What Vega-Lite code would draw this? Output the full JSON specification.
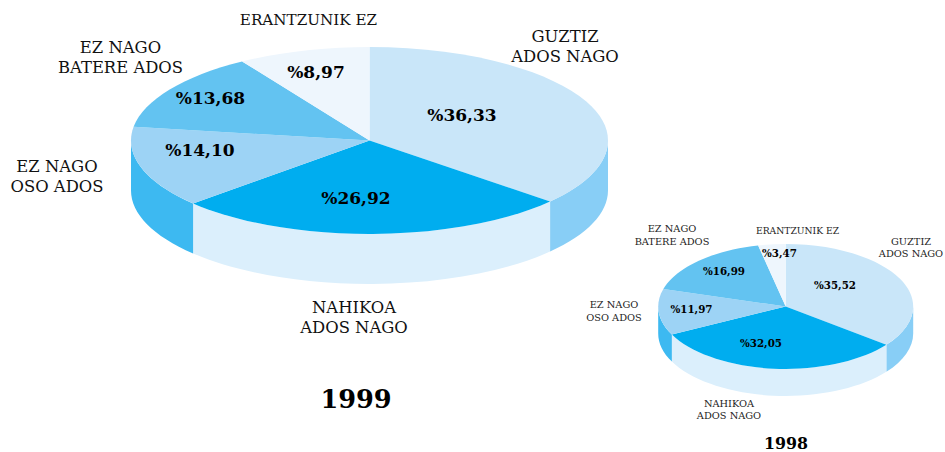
{
  "$schema": "https://vega.github.io/schema/vega-lite/v6.json",
  "width": 945,
  "height": 452,
  "padding": 0,
  "autosize": {"type": "none"},
  "background": "white",
  "view": {"stroke": null},
  "datasets": {
    "slices": [
      {"year": 1999, "slice": "GUZTIZ ADOS NAGO", "order": 1, "value": 36.33},
      {"year": 1999, "slice": "NAHIKOA ADOS NAGO", "order": 2, "value": 26.92},
      {"year": 1999, "slice": "EZ NAGO OSO ADOS", "order": 3, "value": 14.10},
      {"year": 1999, "slice": "EZ NAGO BATERE ADOS", "order": 4, "value": 13.68},
      {"year": 1999, "slice": "ERANTZUNIK EZ", "order": 5, "value": 8.97},
      {"year": 1998, "slice": "GUZTIZ ADOS NAGO", "order": 1, "value": 35.52},
      {"year": 1998, "slice": "NAHIKOA ADOS NAGO", "order": 2, "value": 32.05},
      {"year": 1998, "slice": "EZ NAGO OSO ADOS", "order": 3, "value": 11.97},
      {"year": 1998, "slice": "EZ NAGO BATERE ADOS", "order": 4, "value": 16.99},
      {"year": 1998, "slice": "ERANTZUNIK EZ", "order": 5, "value": 3.47}
    ],
    "labels": [
      {"kind": "none1999", "text": "ERANTZUNIK EZ", "lx": 308.5, "ly": 19.5},
      {"kind": "name1999", "text": "GUZTIZ\nADOS NAGO", "lx": 565, "ly": 36.5},
      {"kind": "name1999", "text": "EZ NAGO\nBATERE ADOS", "lx": 120.5, "ly": 47.5},
      {"kind": "name1999", "text": "EZ NAGO\nOSO ADOS", "lx": 57, "ly": 167},
      {"kind": "name1999", "text": "NAHIKOA\nADOS NAGO", "lx": 354, "ly": 308},
      {"kind": "pct1999", "text": "%36,33", "lx": 462, "ly": 116},
      {"kind": "pct1999", "text": "%26,92", "lx": 356, "ly": 199},
      {"kind": "pct1999", "text": "%14,10", "lx": 200, "ly": 150.5},
      {"kind": "pct1999", "text": "%13,68", "lx": 210.5, "ly": 99},
      {"kind": "pct1999", "text": "%8,97", "lx": 316, "ly": 73},
      {"kind": "title1999", "text": "1999", "lx": 356, "ly": 400},
      {"kind": "none1998", "text": "ERANTZUNIK EZ", "lx": 797.5, "ly": 231},
      {"kind": "name1998", "text": "GUZTIZ\nADOS NAGO", "lx": 911, "ly": 241.5},
      {"kind": "name1998", "text": "EZ NAGO\nBATERE ADOS", "lx": 672, "ly": 229},
      {"kind": "name1998", "text": "EZ NAGO\nOSO ADOS", "lx": 614, "ly": 305},
      {"kind": "name1998", "text": "NAHIKOA\nADOS NAGO", "lx": 729, "ly": 403.5},
      {"kind": "pct1998", "text": "%35,52", "lx": 835, "ly": 286},
      {"kind": "pct1998", "text": "%32,05", "lx": 761, "ly": 344},
      {"kind": "pct1998", "text": "%11,97", "lx": 691.5, "ly": 310},
      {"kind": "pct1998", "text": "%16,99", "lx": 724, "ly": 272},
      {"kind": "pct1998", "text": "%3,47", "lx": 779.5, "ly": 253.5},
      {"kind": "title1998", "text": "1998", "lx": 786, "ly": 444}
    ]
  },
  "layer": [
    {
      "data": {"name": "slices"},
      "transform": [
        {"window": [{"op": "sum", "field": "value", "as": "cum"}], "sort": [{"field": "order", "order": "ascending"}], "groupby": ["year"]},
        {"calculate": "datum.cum * PI / 50", "as": "a1"},
        {"calculate": "(datum.cum - datum.value) * PI / 50", "as": "a0"},
        {"calculate": "datum.year == 1999 ? 0.392 : 0.49", "as": "k"},
        {"calculate": "datum.year == 1999 ? 0.2096 : 0.2118", "as": "d"},
        {"calculate": "round(sin(datum.a0) * 100000) / 100000", "as": "x0"},
        {"calculate": "round(-datum.k * cos(datum.a0) * 100000) / 100000", "as": "y0"},
        {"calculate": "round(sin(datum.a1) * 100000) / 100000", "as": "x1"},
        {"calculate": "round(-datum.k * cos(datum.a1) * 100000) / 100000", "as": "y1"},
        {"calculate": "'M0,0L' + datum.x0 + ',' + datum.y0 + 'A1,' + datum.k + ',0,' + (datum.a1 - datum.a0 > PI ? 1 : 0) + ',1,' + datum.x1 + ',' + datum.y1 + 'Z'", "as": "topPath"},
        {"calculate": "max(datum.a0, PI / 2)", "as": "b0"},
        {"calculate": "min(datum.a1, 3 * PI / 2)", "as": "b1"},
        {"calculate": "round(sin(datum.b0) * 100000) / 100000", "as": "wx0"},
        {"calculate": "round(-datum.k * cos(datum.b0) * 100000) / 100000", "as": "wy0"},
        {"calculate": "round(sin(datum.b1) * 100000) / 100000", "as": "wx1"},
        {"calculate": "round(-datum.k * cos(datum.b1) * 100000) / 100000", "as": "wy1"},
        {"calculate": "'M' + datum.wx0 + ',' + datum.wy0 + 'A1,' + datum.k + ',0,0,1,' + datum.wx1 + ',' + datum.wy1 + 'L' + datum.wx1 + ',' + (datum.wy1 + datum.d) + 'A1,' + datum.k + ',0,0,0,' + datum.wx0 + ',' + (datum.wy0 + datum.d) + 'Z'", "as": "wallPath"}
      ],
      "encoding": {
        "x": {"field": "year", "type": "nominal", "axis": null, "scale": {"type": "point", "domain": [1999, 1998], "range": [369.5, 785.7], "padding": 0}},
        "y": {"field": "year", "type": "nominal", "axis": null, "scale": {"type": "point", "domain": [1999, 1998], "range": [140.5, 306.5], "padding": 0}},
        "size": {"field": "year", "type": "nominal", "legend": null, "scale": {"type": "point", "domain": [1999, 1998], "range": [227529, 65025], "padding": 0}}
      },
      "layer": [
        {
          "transform": [{"filter": "datum.a1 > PI / 2 && datum.a0 < 3 * PI / 2"}],
          "mark": {"type": "point", "filled": true, "opacity": 1, "strokeWidth": 0},
          "encoding": {
            "shape": {"field": "wallPath", "type": "nominal", "scale": null, "legend": null},
            "fill": {"field": "slice", "type": "nominal", "legend": null, "scale": {"domain": ["GUZTIZ ADOS NAGO", "NAHIKOA ADOS NAGO", "EZ NAGO OSO ADOS"], "range": ["#88CEF6", "#DBEFFC", "#3DB9F1"]}}
          }
        },
        {
          "mark": {"type": "point", "filled": true, "opacity": 1, "strokeWidth": 0},
          "encoding": {
            "shape": {"field": "topPath", "type": "nominal", "scale": null, "legend": null},
            "color": {"field": "slice", "type": "nominal", "legend": null, "scale": {"domain": ["GUZTIZ ADOS NAGO", "NAHIKOA ADOS NAGO", "EZ NAGO OSO ADOS", "EZ NAGO BATERE ADOS", "ERANTZUNIK EZ"], "range": ["#C9E6F9", "#00ADEF", "#9DD3F5", "#63C3F1", "#EEF6FD"]}}
          }
        }
      ]
    },
    {
      "data": {"name": "labels"},
      "encoding": {
        "x": {"field": "lx", "type": "quantitative", "axis": null, "scale": {"domain": [0, 945], "range": [0, 945], "nice": false, "zero": false}},
        "y": {"field": "ly", "type": "quantitative", "axis": null, "scale": {"domain": [0, 452], "range": [0, 452], "nice": false, "zero": false}},
        "text": {"field": "text", "type": "nominal"}
      },
      "layer": [
        {"transform": [{"filter": "datum.kind == 'name1999'"}], "mark": {"type": "text", "font": "DejaVu Serif", "fontSize": 16.4, "color": "#111111", "lineBreak": "\n", "lineHeight": 20, "align": "center", "baseline": "middle"}},
        {"transform": [{"filter": "datum.kind == 'none1999'"}], "mark": {"type": "text", "font": "DejaVu Serif", "fontSize": 15.2, "color": "#111111", "align": "center", "baseline": "middle"}},
        {"transform": [{"filter": "datum.kind == 'pct1999'"}], "mark": {"type": "text", "font": "DejaVu Serif", "fontSize": 17, "fontWeight": "bold", "color": "#000000", "align": "center", "baseline": "middle"}},
        {"transform": [{"filter": "datum.kind == 'title1999'"}], "mark": {"type": "text", "font": "DejaVu Serif", "fontSize": 25.6, "fontWeight": "bold", "color": "#000000", "align": "center", "baseline": "middle"}},
        {"transform": [{"filter": "datum.kind == 'name1998'"}], "mark": {"type": "text", "font": "DejaVu Serif", "fontSize": 9.8, "color": "#222222", "lineBreak": "\n", "lineHeight": 12.5, "align": "center", "baseline": "middle"}},
        {"transform": [{"filter": "datum.kind == 'none1998'"}], "mark": {"type": "text", "font": "DejaVu Serif", "fontSize": 9.2, "color": "#222222", "align": "center", "baseline": "middle"}},
        {"transform": [{"filter": "datum.kind == 'pct1998'"}], "mark": {"type": "text", "font": "DejaVu Serif", "fontSize": 10.3, "fontWeight": "bold", "color": "#000000", "align": "center", "baseline": "middle"}},
        {"transform": [{"filter": "datum.kind == 'title1998'"}], "mark": {"type": "text", "font": "DejaVu Serif", "fontSize": 15.8, "fontWeight": "bold", "color": "#000000", "align": "center", "baseline": "middle"}}
      ]
    }
  ],
  "resolve": {"scale": {"x": "independent", "y": "independent"}}
}
